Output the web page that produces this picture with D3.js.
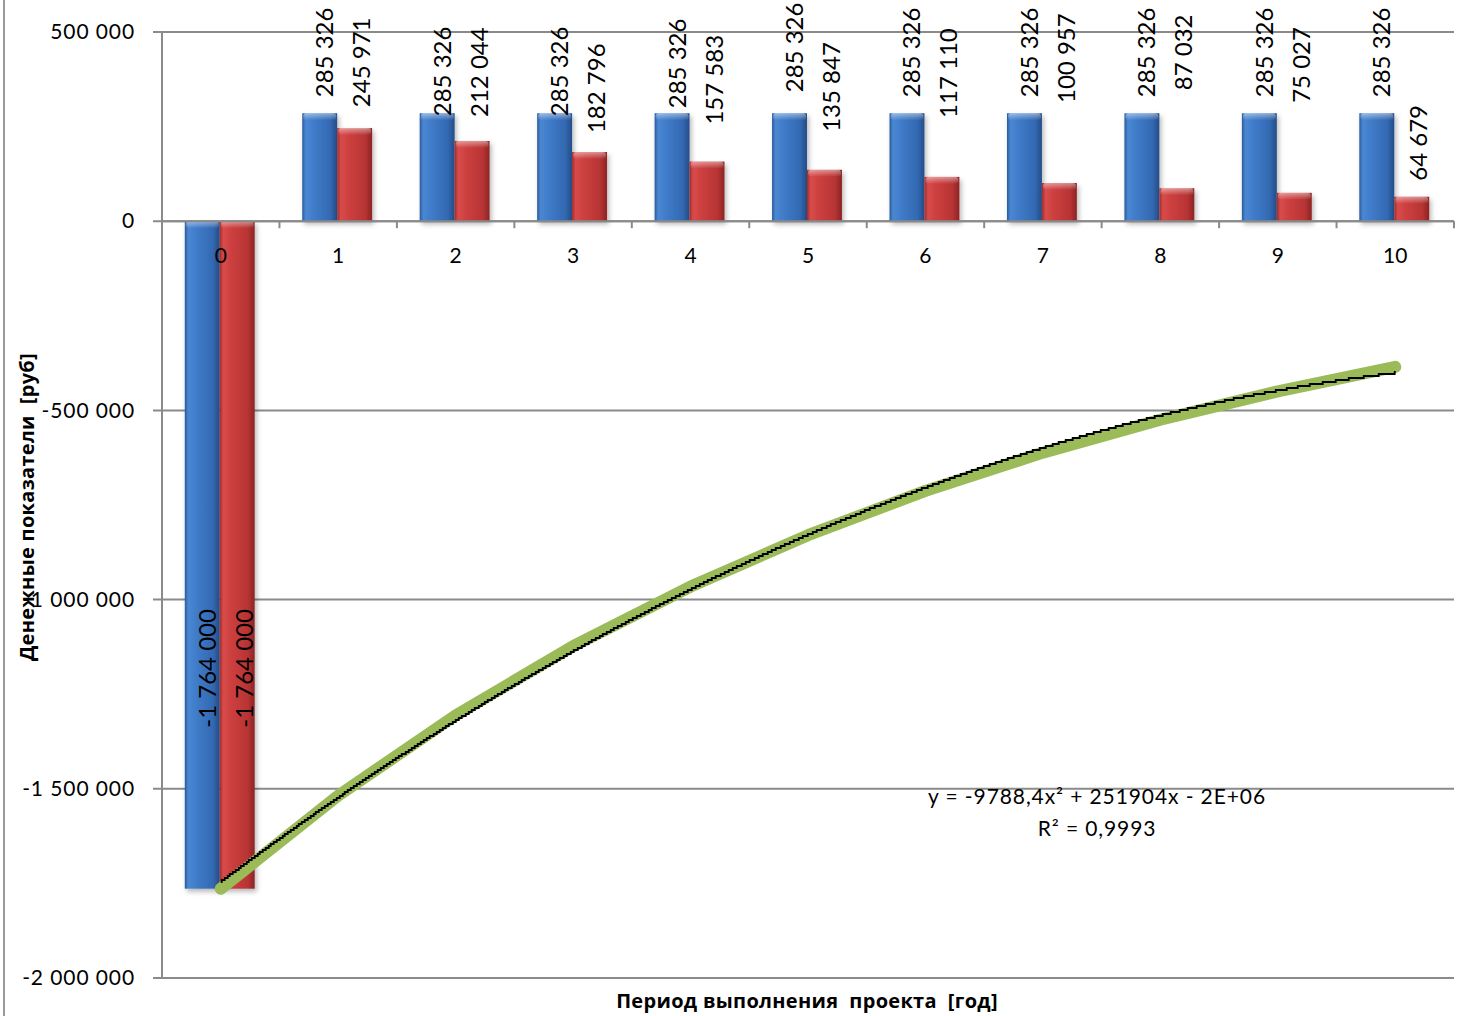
<!DOCTYPE html>
<html>
<head>
<meta charset="utf-8">
<script src="https://cdn.jsdelivr.net/npm/d3@7"></script>
<style>
  body { margin: 0; background: #fff; }
  text { fill: #000; }
</style>
</head>
<body>
<svg id="chart" width="1460" height="1016"></svg>
<script>
// ---- Data: project cash flows by year ----
const years = ["0", "1", "2", "3", "4", "5", "6", "7", "8", "9", "10"];
const cashFlow = [-1764000, 285326, 285326, 285326, 285326, 285326, 285326, 285326, 285326, 285326, 285326];
const discountedFlow = [-1764000, 245971, 212044, 182796, 157583, 135847, 117110, 100957, 87032, 75027, 64679];
const cumulativeNPV = [-1764000, -1518029, -1305985, -1123189, -965606, -829759, -712649, -611692, -524660, -449633, -384954];
const yTickValues = [500000, 0, -500000, -1000000, -1500000, -2000000];

// ---- Layout ----
const W = 1460, H = 1016;
const plot = { left: 162, right: 1454, top: 32, bottom: 978 };
const gridColor = "#8a8a8a";
const numFont = "Lato, 'Open Sans', sans-serif";
const titleFont = "'Open Sans', 'Noto Sans', sans-serif";
// hand-placed nudges (px, + = down) for the rotated value labels
const blueLabelShift = [-145, 0, 19, 19, 11, -5, 0, 0, 0, 0, 0];
const redLabelShift  = [-145, -5, -8, -3, -21, -22, -43, -64, -82, -74, 0];

const ru = d3.formatLocale({ decimal: ",", thousands: " ", grouping: [3], currency: ["", ""], minus: "-" });
const fmt = ru.format(",.0f");

const svg = d3.select("#chart");
svg.append("rect").attr("width", W).attr("height", H).attr("fill", "#fff");

const y = d3.scaleLinear().domain([-2000000, 500000]).range([plot.bottom, plot.top]);
const x = d3.scaleBand().domain(years).range([plot.left, plot.right]).padding(0);
const bw = x.bandwidth();
const groupW = bw * 0.595;
const xs = d3.scaleBand().domain(["cash", "disc"]).range([(bw - groupW) / 2 - 1, (bw + groupW) / 2 - 1]).padding(0);
const cx = d => x(d) + bw / 2;

// ---- defs: bar shading and shadow ----
const defs = svg.append("defs");
function hGrad(id, stops) {
  const g = defs.append("linearGradient").attr("id", id).attr("x1", 0).attr("x2", 1).attr("y1", 0).attr("y2", 0);
  stops.forEach(([o, c]) => g.append("stop").attr("offset", o).attr("stop-color", c));
}
hGrad("gBlue", [[0, "#2a5a99"], [0.1, "#4a87d3"], [0.35, "#3f7bc8"], [0.8, "#3369b2"], [1, "#244d88"]]);
hGrad("gRed", [[0, "#9f2a2a"], [0.1, "#d84b4b"], [0.35, "#cc3f3f"], [0.8, "#b83434"], [1, "#8c2424"]]);
const hl = defs.append("linearGradient").attr("id", "gTop").attr("x1", 0).attr("x2", 0).attr("y1", 0).attr("y2", 1);
hl.append("stop").attr("offset", 0).attr("stop-color", "#fff").attr("stop-opacity", 0.45);
hl.append("stop").attr("offset", 1).attr("stop-color", "#fff").attr("stop-opacity", 0);
const sh = defs.append("filter").attr("id", "shadow").attr("x", "-20%").attr("y", "-5%").attr("width", "150%").attr("height", "115%");
sh.append("feDropShadow").attr("dx", 2).attr("dy", 3).attr("stdDeviation", 2.5).attr("flood-color", "#000").attr("flood-opacity", 0.28);

// ---- frame line at the left edge ----
svg.append("line").attr("x1", 4).attr("x2", 4).attr("y1", 0).attr("y2", H)
  .attr("stroke", "#9a9a9a").attr("stroke-width", 2);

// ---- gridlines ----
svg.append("g").selectAll("line").data(yTickValues).join("line")
  .attr("x1", plot.left - 9).attr("x2", plot.right)
  .attr("y1", d => y(d)).attr("y2", d => y(d))
  .attr("stroke", gridColor).attr("stroke-width", 2);

// ---- bars ----
const series = [
  { key: "cash", values: cashFlow, grad: "url(#gBlue)", shift: blueLabelShift, dx: 4 },
  { key: "disc", values: discountedFlow, grad: "url(#gRed)", shift: redLabelShift, dx: 6 }
];
const barG = svg.append("g");
series.forEach(s => {
  const g = barG.append("g").attr("filter", "url(#shadow)");
  years.forEach((yr, i) => {
    const v = s.values[i];
    const x0 = x(yr) + xs(s.key);
    const top = Math.min(y(v), y(0));
    const h = Math.abs(y(v) - y(0));
    g.append("rect").attr("x", x0).attr("y", top).attr("width", xs.bandwidth()).attr("height", h)
      .attr("fill", s.grad);
  });
  years.forEach((yr, i) => {
    const v = s.values[i];
    const x0 = x(yr) + xs(s.key);
    const top = Math.min(y(v), y(0));
    barG.append("rect").attr("x", x0 + 1).attr("y", top).attr("width", xs.bandwidth() - 2).attr("height", 7)
      .attr("rx", 3).attr("fill", "url(#gTop)");
  });
});

// ---- axes ----
svg.append("line").attr("x1", plot.left).attr("x2", plot.left).attr("y1", plot.top).attr("y2", plot.bottom)
  .attr("stroke", gridColor).attr("stroke-width", 2);

const yAxis = svg.append("g").attr("transform", `translate(${plot.left},0)`)
  .call(d3.axisLeft(y).tickValues(yTickValues).tickFormat(fmt).tickSize(0).tickPadding(27));
yAxis.select(".domain").remove();
yAxis.selectAll("text").attr("font-family", numFont).attr("font-size", 21).attr("letter-spacing", 0.9).attr("fill", "#000");

svg.append("line").attr("x1", plot.left).attr("x2", plot.right).attr("y1", y(0)).attr("y2", y(0))
  .attr("stroke", gridColor).attr("stroke-width", 2);
svg.append("g").selectAll("line").data(d3.range(1, years.length + 1)).join("line")
  .attr("x1", i => plot.left + i * bw).attr("x2", i => plot.left + i * bw)
  .attr("y1", y(0)).attr("y2", y(0) + 7)
  .attr("stroke", gridColor).attr("stroke-width", 2);

const xAxis = svg.append("g").attr("transform", `translate(0,${y(0)})`)
  .call(d3.axisBottom(x).tickSize(0).tickPadding(27));
xAxis.select(".domain").remove();
xAxis.selectAll("text").attr("font-family", numFont).attr("font-size", 21).attr("fill", "#000");

// ---- cumulative discounted cash flow line ----
const pts = years.map((yr, i) => [cx(yr), y(cumulativeNPV[i])]);
svg.append("path").attr("d", d3.line()(pts))
  .attr("fill", "none").attr("stroke", "#9bbb59").attr("stroke-width", 12)
  .attr("stroke-linecap", "round").attr("stroke-linejoin", "round");

// ---- polynomial (order 2) trendline, least squares on x = 1..n ----
const n = cumulativeNPV.length;
const X = d3.range(1, n + 1);
const S = k => d3.sum(X, t => Math.pow(t, k));
const Sy = k => d3.sum(X, (t, i) => Math.pow(t, k) * cumulativeNPV[i]);
function solve3(M, r) {
  const A = M.map((row, i) => [...row, r[i]]);
  for (let c = 0; c < 3; c++) {
    let p = c; for (let k = c + 1; k < 3; k++) if (Math.abs(A[k][c]) > Math.abs(A[p][c])) p = k;
    [A[c], A[p]] = [A[p], A[c]];
    for (let k = 0; k < 3; k++) if (k !== c) {
      const f = A[k][c] / A[c][c];
      for (let j = c; j < 4; j++) A[k][j] -= f * A[c][j];
    }
  }
  return A.map((row, i) => row[3] / row[i]);
}
const [ta, tb, tc] = solve3(
  [[S(4), S(3), S(2)], [S(3), S(2), S(1)], [S(2), S(1), S(0)]],
  [Sy(2), Sy(1), Sy(0)]
);
const trend = t => ta * t * t + tb * t + tc;
const meanY = d3.mean(cumulativeNPV);
const r2 = 1 - d3.sum(X, (t, i) => (cumulativeNPV[i] - trend(t)) ** 2) / d3.sum(cumulativeNPV, v => (v - meanY) ** 2);

const tx = d3.scaleLinear().domain([1, n]).range([cx(years[0]), cx(years[n - 1])]);
const trendPts = d3.range(tx(1), tx(n) + 0.5, 1).map(px => [px, Math.round(y(trend(tx.invert(px))) / 2) * 2]);
svg.append("path").attr("d", d3.line().curve(d3.curveStepAfter)(trendPts))
  .attr("fill", "none").attr("stroke", "#000").attr("stroke-width", 1.8);

// ---- value labels (rotated) ----
const labelG = svg.append("g");
series.forEach(s => {
  years.forEach((yr, i) => {
    const v = s.values[i];
    const lx = x(yr) + xs(s.key) + xs.bandwidth() / 2 + s.dx;
    const ly = y(v) - 16 + s.shift[i];
    labelG.append("text").attr("x", lx).attr("y", ly)
      .attr("transform", `rotate(-90,${lx},${ly})`)
      .attr("text-anchor", "start").attr("dominant-baseline", "central")
      .attr("font-family", numFont).attr("font-size", 24)
      .text(fmt(v));
  });
});

// ---- trendline equation ----
const num = d3.formatLocale({ decimal: ",", thousands: "", grouping: [3], currency: ["", ""], minus: "-" });
const expo = v => { const [m, e] = Math.abs(v).toExponential(0).toUpperCase().split("E"); const ev = +e; return `${m}E${ev < 0 ? "-" : "+"}${String(Math.abs(ev)).padStart(2, "0")}`; };
const eqText = `y = ${num.format(".1f")(ta)}x² ${tb < 0 ? "-" : "+"} ${num.format(".0f")(Math.abs(tb))}x ${tc < 0 ? "-" : "+"} ${expo(tc)}`;
const eqX = 1097;
svg.append("text").attr("x", eqX).attr("y", y(-1500000) + 15).attr("text-anchor", "middle")
  .attr("font-family", numFont).attr("font-size", 21).attr("letter-spacing", 0.9).text(eqText);
svg.append("text").attr("x", eqX).attr("y", y(-1500000) + 47).attr("text-anchor", "middle")
  .attr("font-family", numFont).attr("font-size", 21).attr("letter-spacing", 0.9)
  .text(`R² = ${num.format(".4f")(r2)}`);

// ---- axis titles ----
svg.append("text").attr("x", 807).attr("y", 1008).attr("text-anchor", "middle")
  .style("white-space", "pre")
  .attr("font-family", titleFont).attr("font-weight", 700).attr("font-size", 20).attr("letter-spacing", 0.3)
  .text("Период выполнения  проекта  [год]");
svg.append("text").attr("transform", "translate(34,507) rotate(-90)").attr("text-anchor", "middle")
  .style("white-space", "pre")
  .attr("font-family", titleFont).attr("font-weight", 700).attr("font-size", 20).attr("letter-spacing", 0.3)
  .text("Денежные показатели  [руб]");
</script>
</body>
</html>
